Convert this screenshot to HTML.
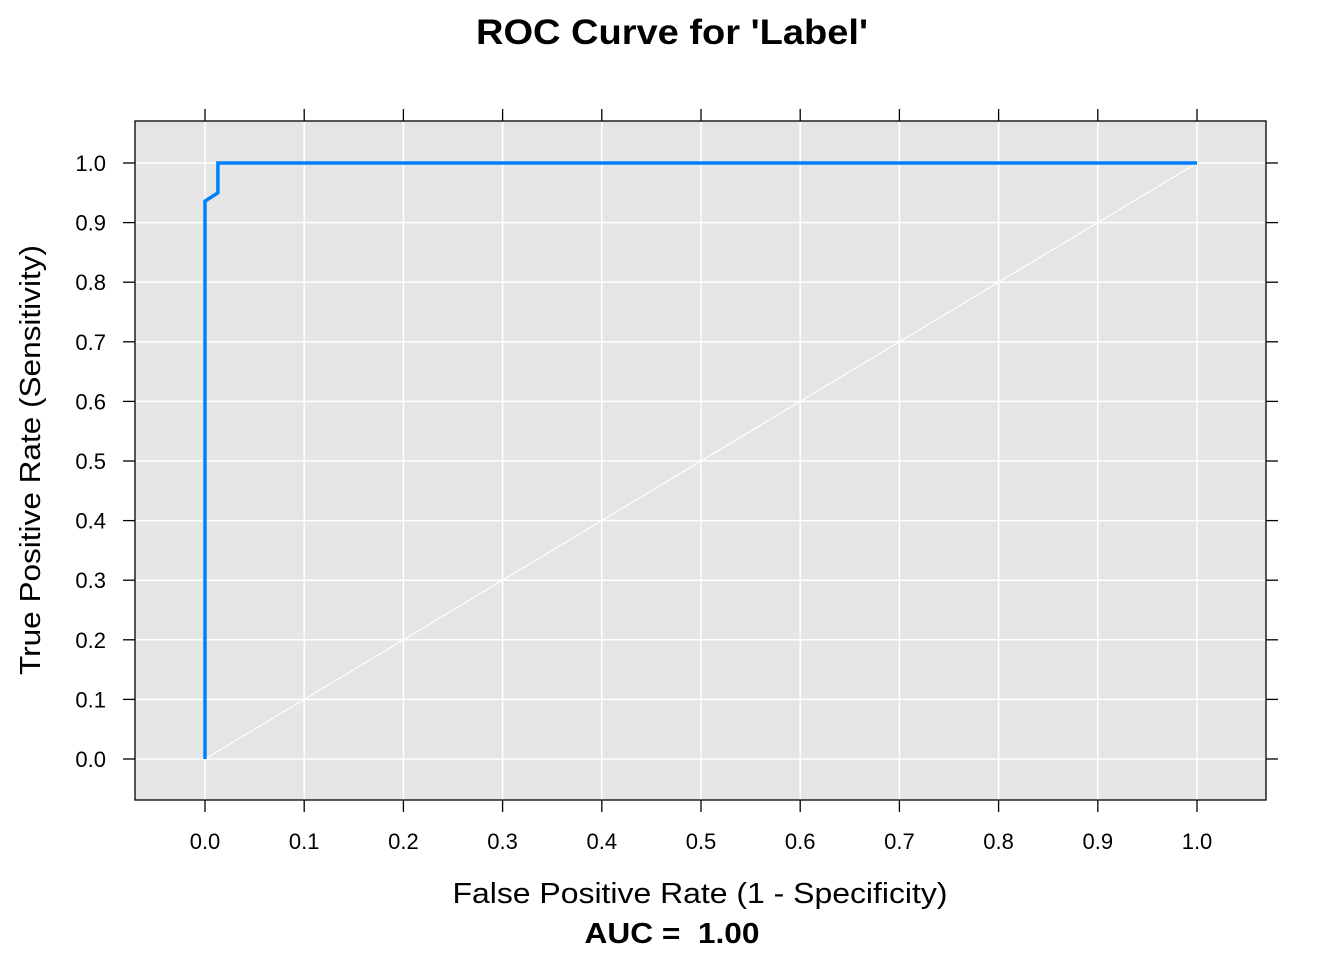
<!DOCTYPE html>
<html><head><meta charset="utf-8"><style>
body{margin:0;background:#fff}
text{font-family:"Liberation Sans",sans-serif;fill:#000}
</style></head><body>
<svg id="chart" width="1344" height="960" xmlns="http://www.w3.org/2000/svg">
<text x="672" y="44" font-size="35" font-weight="bold" text-anchor="middle" textLength="392" lengthAdjust="spacingAndGlyphs">ROC Curve for 'Label'</text>
<rect x="135" y="121" width="1131" height="679" fill="#e5e5e5"/>
<g id="grid"></g>
<g id="ticks"></g>
<line id="diag" stroke="#fff" stroke-width="1.2"/>
<polyline id="roc" fill="none" stroke="#0080ff" stroke-width="3.5"/>
<rect x="135" y="121" width="1131" height="679" fill="none" stroke="#000" stroke-width="1.3"/>
<text x="700" y="903" font-size="29" text-anchor="middle" textLength="495" lengthAdjust="spacingAndGlyphs">False Positive Rate (1 - Specificity)</text>
<text x="672" y="943" font-size="29" font-weight="bold" text-anchor="middle" textLength="175" lengthAdjust="spacingAndGlyphs" xml:space="preserve" style="white-space:pre">AUC =  1.00</text>
<text transform="translate(40,460) rotate(-90)" font-size="29" text-anchor="middle" textLength="430" lengthAdjust="spacingAndGlyphs">True Positive Rate (Sensitivity)</text>
</svg>
<script>
const tickValues=[0,0.1,0.2,0.3,0.4,0.5,0.6,0.7,0.8,0.9,1.0];
const tickLabels=["0.0","0.1","0.2","0.3","0.4","0.5","0.6","0.7","0.8","0.9","1.0"];
const fpr=[0,0,0.013,0.013,1];
const tpr=[0,0.936,0.950,1,1];
const sx=v=>205+v*992, sy=v=>759-v*596;
const NS="http://www.w3.org/2000/svg";
const grid=document.getElementById('grid'), ticks=document.getElementById('ticks');
function mk(p,tag,a){const e=document.createElementNS(NS,tag);for(const k in a)e.setAttribute(k,a[k]);p.appendChild(e);return e;}
tickValues.forEach((v,i)=>{
 let g=mk(grid,'line',{x1:sx(v),x2:sx(v),y1:121,y2:800,stroke:'#fff','stroke-width':1.5});
 
 
 g=mk(grid,'line',{x1:135,x2:1266,y1:sy(v),y2:sy(v),stroke:'#fff','stroke-width':1.5});
 
 
 for(const [x1,y1,x2,y2] of [[sx(v),800,sx(v),812],[sx(v),121,sx(v),109],[135,sy(v),123,sy(v)],[1266,sy(v),1278,sy(v)]]){
  const t=mk(ticks,'line',{x1,y1,x2,y2,stroke:'#000','stroke-width':1.3});
  
  
 }
 let t=mk(ticks,'text',{x:sx(v),y:849,'font-size':22,'text-anchor':'middle'});t.textContent=tickLabels[i];
 
 
 t=mk(ticks,'text',{x:106,y:sy(v)+8,'font-size':22,'text-anchor':'end'});t.textContent=tickLabels[i];
 
 
});
const d=document.getElementById('diag');
d.setAttribute('x1',sx(0));d.setAttribute('y1',sy(0));d.setAttribute('x2',sx(1));d.setAttribute('y2',sy(1));
document.getElementById('roc').setAttribute('points',fpr.map((f,i)=>sx(f)+','+sy(tpr[i])).join(' '));
</script>
</body></html>
